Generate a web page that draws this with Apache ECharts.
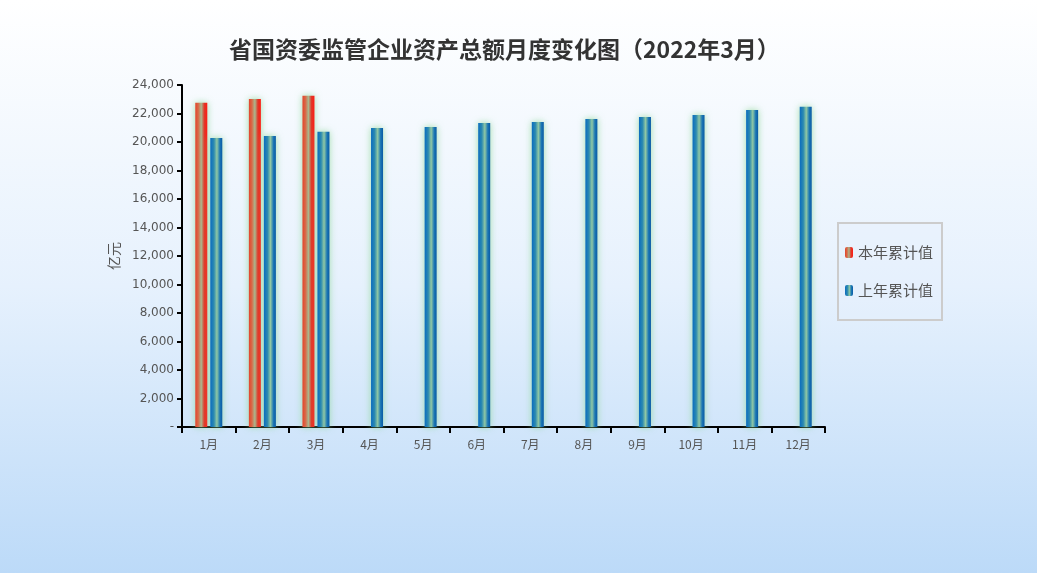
<!DOCTYPE html>
<html><head><meta charset="utf-8">
<script src="https://cdn.jsdelivr.net/npm/echarts@6/dist/echarts.min.js"></script>
<style>html,body{margin:0;padding:0;}#c{width:1037px;height:573px;background:linear-gradient(to bottom,#ffffff 0%,#e6f1fd 50%,#bcdaf8 100%);}</style>
</head><body><div id="c"></div>
<script>
const categories = ['1月','2月','3月','4月','5月','6月','7月','8月','9月','10月','11月','12月'];
const thisYear = [22750, 23020, 23250, null, null, null, null, null, null, null, null, null];
const lastYear = [20280, 20420, 20720, 20980, 21050, 21330, 21400, 21610, 21750, 21900, 22250, 22480];
const yTicks = {min: 0, max: 24000, interval: 2000};

const redGrad = new echarts.graphic.LinearGradient(0,0,1,0,[
  {offset:0,color:'#e4432c'},{offset:0.25,color:'#d86a48'},{offset:0.5,color:'#a9b88e'},
  {offset:0.75,color:'#e03828'},{offset:1,color:'#ff1a14'}]);
const blueGrad = new echarts.graphic.LinearGradient(0,0,1,0,[
  {offset:0,color:'#0a6cc0'},{offset:0.3,color:'#2c8ab0'},{offset:0.55,color:'#90c8a4'},
  {offset:0.8,color:'#1a76b4'},{offset:1,color:'#0a5aa4'}]);

const chart = echarts.init(document.getElementById('c'));
chart.setOption({
  backgroundColor: 'transparent',
  title: {text: '省国资委监管企业资产总额月度变化图（2022年3月）', left: 224, top: 33,
    textStyle: {fontSize: 23, fontWeight: 'bold', color: '#333', fontFamily: 'Noto Sans CJK SC'}},
  grid: {left: 182, right: 212, top: 85, bottom: 146},
  legend: {orient: 'vertical', left: 838, top: 223, width: 104,
    padding: [22, 9, 22, 7], itemGap: 23, itemWidth: 8, itemHeight: 11,
    borderColor: '#cccccc', borderWidth: 2, backgroundColor: 'rgba(230,240,252,0.4)',
    textStyle: {fontSize: 15, color: '#555', fontFamily: 'Noto Sans CJK SC'},
    data: [{name:'本年累计值', itemStyle:{color: redGrad}}, {name:'上年累计值', itemStyle:{color: blueGrad}}]},
  xAxis: {type: 'category', data: categories, boundaryGap: true,
    axisLine: {lineStyle: {color: '#000', width: 2}},
    axisTick: {show: true, length: 6, lineStyle: {color: '#000', width: 2}},
    axisLabel: {color: '#555', fontSize: 12, margin: 11, fontFamily: 'Noto Sans CJK SC'}},
  yAxis: {type: 'value', min: yTicks.min, max: yTicks.max, interval: yTicks.interval,
    name: '亿元', nameLocation: 'middle', nameGap: 58, nameRotate: 90,
    nameTextStyle: {color: '#555', fontSize: 14, fontFamily: 'Noto Sans CJK SC'},
    axisLine: {show: true, lineStyle: {color: '#000', width: 2}},
    axisTick: {show: true, length: 5, lineStyle: {color: '#000', width: 2}},
    splitLine: {show: false},
    axisLabel: {color: '#555', fontSize: 12, margin: 8, fontFamily: 'DejaVu Sans',
      formatter: v => v === 0 ? '-' : v.toLocaleString('en-US')}},
  series: [
    {name: '本年累计值', type: 'bar', data: thisYear, barWidth: 12, barGap: '25%',
     itemStyle: {color: redGrad, shadowColor: 'rgba(140,215,150,0.8)', shadowBlur: 7}},
    {name: '上年累计值', type: 'bar', data: lastYear, barWidth: 12,
     itemStyle: {color: blueGrad, shadowColor: 'rgba(140,215,150,0.8)', shadowBlur: 7}}
  ]
});
</script></body></html>
